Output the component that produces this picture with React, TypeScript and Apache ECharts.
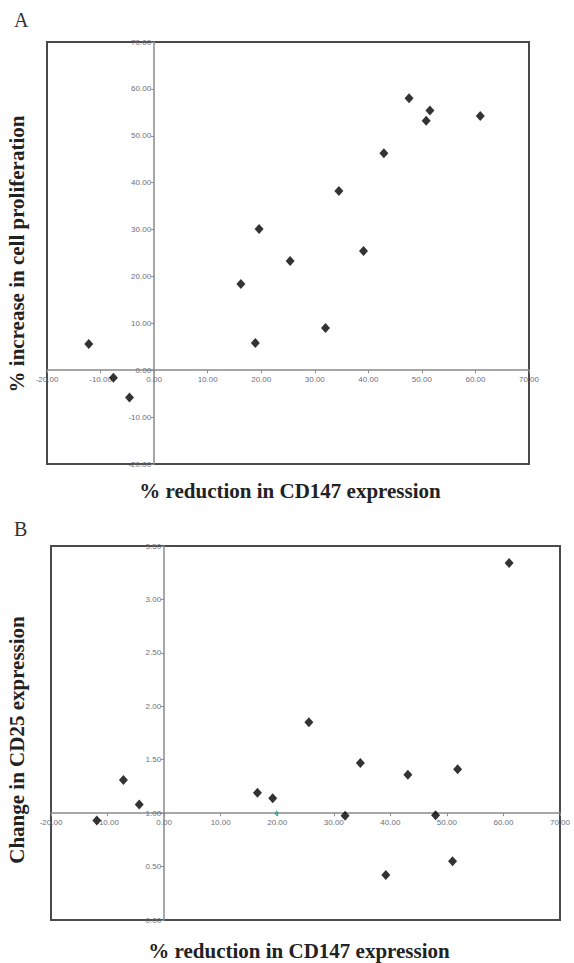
import React, { useEffect, useRef } from "react";
import * as echarts from "echarts";

// Panel A: % reduction in CD147 expression vs % increase in cell proliferation
const aReduction = [-12.2, -7.6, -4.6, 16.2, 18.9, 19.6, 25.4, 32.0, 34.5, 39.1, 42.9, 47.6, 50.8, 51.5, 60.9];
const aProliferation = [5.6, -1.6, -5.8, 18.4, 5.8, 30.1, 23.3, 9.0, 38.2, 25.4, 46.3, 58.0, 53.2, 55.4, 54.2];

// Panel B: % reduction in CD147 expression vs change in CD25 expression
const bReduction = [-11.9, -7.2, -4.4, 16.5, 19.2, 25.6, 32.0, 34.7, 39.2, 43.1, 48.0, 51.0, 51.9, 61.0];
const bCD25 = [0.93, 1.31, 1.08, 1.19, 1.14, 1.85, 0.975, 1.47, 0.42, 1.36, 0.98, 0.55, 1.41, 3.34];
const bTealReduction = [19.9];
const bTealCD25 = [1.0];

const xTicks = { min: -20, max: 70, interval: 10 };
const aYTicks = { min: -20, max: 70, interval: 10 };
const bYTicks = { min: 0, max: 3.5, interval: 0.5 };
const aCross = { x: 0, y: 0 };
const bCross = { x: 0, y: 1 };

const panelLetters = ["A", "B"];
const xTitle = "% reduction in CD147 expression";
const yTitles = ["% increase in cell proliferation", "Change in CD25 expression"];

const SERIF = "'Liberation Serif', 'DejaVu Serif', serif";
const SANS = "'Liberation Sans', Arial, sans-serif";

export default function App() {
  const ref = useRef<HTMLDivElement>(null);
  useEffect(() => {
    if (!ref.current) return;
    const chart = echarts.init(ref.current, undefined, { renderer: "svg" });
    const gridA = { left: 47, top: 42, width: 482, height: 422 };
    const gridB = { left: 51, top: 546, width: 509, height: 374 };
    const fmt = (v: number) => v.toFixed(2);
    const labelStyle = { fontSize: 8, color: "#6b7080", fontFamily: SANS, formatter: fmt, showMinLabel: true, showMaxLabel: true };
    const axisLine = { onZero: false, lineStyle: { color: "#8a8a8a", width: 1.5 } };
    const tick = { show: true, length: 3, lineStyle: { color: "#8a8a8a" } };
    // offsets placing each axis where the other crosses
    const frac = (v: number, t: { min: number; max: number }) => (v - t.min) / (t.max - t.min);
    const aXOff = -frac(aCross.y, aYTicks) * gridA.height;
    const aYOff = -frac(aCross.x, xTicks) * gridA.width;
    const bXOff = -frac(bCross.y, bYTicks) * gridB.height;
    const bYOff = -frac(bCross.x, xTicks) * gridB.width;
    const pairs = (xs: number[], ys: number[]) => xs.map((x, i) => [x, ys[i]]);

    chart.setOption({
      animation: false,
      backgroundColor: "#fff",
      grid: [
        { ...gridA, show: true, borderColor: "#4a4a4a", borderWidth: 2, backgroundColor: "transparent" },
        { ...gridB, show: true, borderColor: "#4a4a4a", borderWidth: 2, backgroundColor: "transparent" },
      ],
      xAxis: [
        {
          type: "value", gridIndex: 0, ...xTicks, position: "bottom", offset: aXOff,
          axisLine, axisTick: tick, splitLine: { show: false },
          axisLabel: { ...labelStyle, margin: 5 },
        },
        {
          type: "value", gridIndex: 1, ...xTicks, position: "bottom", offset: bXOff,
          axisLine, axisTick: tick, splitLine: { show: false },
          axisLabel: { ...labelStyle, margin: 5 },
        },
      ],
      yAxis: [
        {
          type: "value", gridIndex: 0, ...aYTicks, position: "left", offset: aYOff,
          axisLine, axisTick: tick, splitLine: { show: false },
          axisLabel: { ...labelStyle, margin: 3 },
        },
        {
          type: "value", gridIndex: 1, ...bYTicks, position: "left", offset: bYOff,
          axisLine, axisTick: tick, splitLine: { show: false },
          axisLabel: { ...labelStyle, margin: 3 },
        },
      ],
      series: [
        {
          type: "scatter", xAxisIndex: 0, yAxisIndex: 0,
          data: pairs(aReduction, aProliferation),
          symbol: "diamond", symbolSize: [9, 10],
          itemStyle: { color: "#000" },
        },
        {
          type: "scatter", xAxisIndex: 1, yAxisIndex: 1,
          data: pairs(bReduction, bCD25),
          symbol: "diamond", symbolSize: [9, 10],
          itemStyle: { color: "#000" },
        },
        {
          type: "scatter", xAxisIndex: 1, yAxisIndex: 1,
          data: pairs(bTealReduction, bTealCD25),
          symbol: "diamond", symbolSize: [5, 6],
          itemStyle: { color: "#3aa6a0" },
          z: 5,
        },
      ],
      graphic: [
        { type: "text", left: 14, top: 10, style: { text: panelLetters[0], font: `20px ${SERIF}`, fill: "#333" } },
        { type: "text", left: 14, top: 519, style: { text: panelLetters[1], font: `20px ${SERIF}`, fill: "#333" } },
        { type: "text", x: 290, y: 491, style: { text: xTitle, font: `bold 21px ${SERIF}`, fill: "#222", align: "center", verticalAlign: "middle" } },
        { type: "text", x: 299, y: 951, style: { text: xTitle, font: `bold 21px ${SERIF}`, fill: "#222", align: "center", verticalAlign: "middle" } },
        { type: "text", x: 17, y: 254, rotation: Math.PI / 2, style: { text: yTitles[0], font: `bold 21px ${SERIF}`, fill: "#222", align: "center", verticalAlign: "middle" } },
        { type: "text", x: 17, y: 740, rotation: Math.PI / 2, style: { text: yTitles[1], font: `bold 21px ${SERIF}`, fill: "#222", align: "center", verticalAlign: "middle" } },
      ],
    });
    return () => chart.dispose();
  }, []);
  return <div ref={ref} style={{ position: "fixed", left: 0, top: 0, width: 574, height: 963 }} />;
}
